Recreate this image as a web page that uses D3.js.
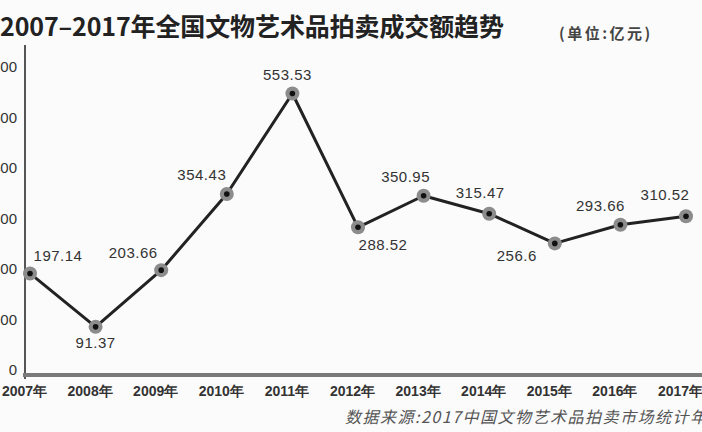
<!DOCTYPE html>
<html>
<head>
<meta charset="utf-8">
<script src="https://cdn.jsdelivr.net/npm/d3@7"></script>
<style>
  html, body { margin: 0; padding: 0; background: #fbfbfb; }
  svg { display: block; }
  text { font-family: "Liberation Sans", Arial, sans-serif; }
</style>
</head>
<body>
<script>
// chart data
var years = ["2007", "2008", "2009", "2010", "2011", "2012", "2013", "2014", "2015", "2016", "2017"];
var amounts = [197.14, 91.37, 203.66, 354.43, 553.53, 288.52, 350.95, 315.47, 256.6, 293.66, 310.52];
var amountLabels = ["197.14", "91.37", "203.66", "354.43", "553.53", "288.52", "350.95", "315.47", "256.6", "293.66", "310.52"];
var yTicks = [0, 100, 200, 300, 400, 500, 600];
var xTickLabels = years.map(function(d) { return d + "年"; });

var titleText = "2007–2017年全国文物艺术品拍卖成交额趋势";
var unitText = "(单位:亿元)";
var sourceText = "数据来源:2017中国文物艺术品拍卖市场统计年报";

// where each value label sits relative to its point
var labelShift = [[28, -18], [0, 16], [-28, -17], [-25, -19], [-5, -19], [25, 17],
                  [-18, -19], [-9, -21], [-38, 12], [-20, -19], [-21, -21]];

var W = 702, H = 432;

var svg = d3.select("body").append("svg")
	.attr("width", W).attr("height", H);

var x = d3.scalePoint().domain(years).range([30, 686]);
var y = d3.scaleLinear().domain([0, 600]).range([373, 70]);

// title
svg.append("text")
	.attr("x", 0).attr("y", 36)
	.style("font-family", "'Noto Sans CJK SC', sans-serif")
	.style("font-weight", "bold")
	.style("font-size", "25px")
	.attr("fill", "#222")
	.attr("textLength", 504)
	.text(titleText);

svg.append("text")
	.attr("x", 559).attr("y", 39)
	.style("font-family", "'Noto Sans CJK SC', sans-serif")
	.style("font-size", "15px")
	.style("font-weight", "bold")
	.style("letter-spacing", "2.5px")
	.attr("fill", "#444")
	.text(unitText);

// y axis (labels only, line drawn by hand)
var yAxis = svg.append("g")
	.attr("transform", "translate(25,0)")
	.call(d3.axisLeft(y).tickValues(yTicks).tickSize(0).tickPadding(8));
yAxis.select(".domain").remove();
yAxis.selectAll("text")
	.attr("dy", "0.1em")
	.style("font-size", "15px")
	.attr("fill", "#333");

svg.append("line")
	.attr("x1", 25).attr("x2", 25)
	.attr("y1", 45).attr("y2", 379)
	.attr("stroke", "#555").attr("stroke-width", 2);

// x axis
var xAxis = svg.append("g")
	.attr("transform", "translate(0,375)")
	.call(d3.axisBottom(x).tickSize(0).tickPadding(11)
		.tickFormat(function(d, i) { return xTickLabels[i]; }));
xAxis.select(".domain").remove();
xAxis.selectAll("text")
	.attr("dx", "-6")
	.style("font-size", "14px")
	.style("font-weight", "bold")
	.attr("fill", "#333");

svg.append("line")
	.attr("x1", 23).attr("x2", W)
	.attr("y1", 375).attr("y2", 375)
	.attr("stroke", "#7a7a7a").attr("stroke-width", 4);

// line
var line = d3.line()
	.x(function(d, i) { return x(years[i]); })
	.y(function(d) { return y(d); });

svg.append("path")
	.datum(amounts)
	.attr("d", line)
	.attr("fill", "none")
	.attr("stroke", "#222")
	.attr("stroke-width", 3)
	.attr("stroke-linejoin", "round");

// markers
var pts = svg.append("g").selectAll("g")
	.data(amounts)
	.enter()
	.append("g")
	.attr("transform", function(d, i) { return "translate(" + x(years[i]) + "," + y(d) + ")"; });

pts.append("circle").attr("r", 7).attr("fill", "#8c8c8c");
pts.append("circle").attr("r", 2.8).attr("fill", "#111");

// value labels
svg.append("g").selectAll("text")
	.data(amounts)
	.enter()
	.append("text")
	.attr("x", function(d, i) { return x(years[i]) + labelShift[i][0]; })
	.attr("y", function(d, i) { return y(d) + labelShift[i][1]; })
	.attr("dy", "0.35em")
	.attr("text-anchor", "middle")
	.style("font-size", "15px")
	.style("letter-spacing", "0.5px")
	.attr("fill", "#333")
	.text(function(d, i) { return amountLabels[i]; });

// source note
svg.append("text")
	.attr("x", 345).attr("y", 423)
	.style("font-family", "'Noto Sans CJK SC', serif")
	.style("font-size", "16px")
	.style("font-style", "italic")
	.style("letter-spacing", "1.5px")
	.attr("fill", "#555")
	.text(sourceText);
</script>
</body>
</html>
